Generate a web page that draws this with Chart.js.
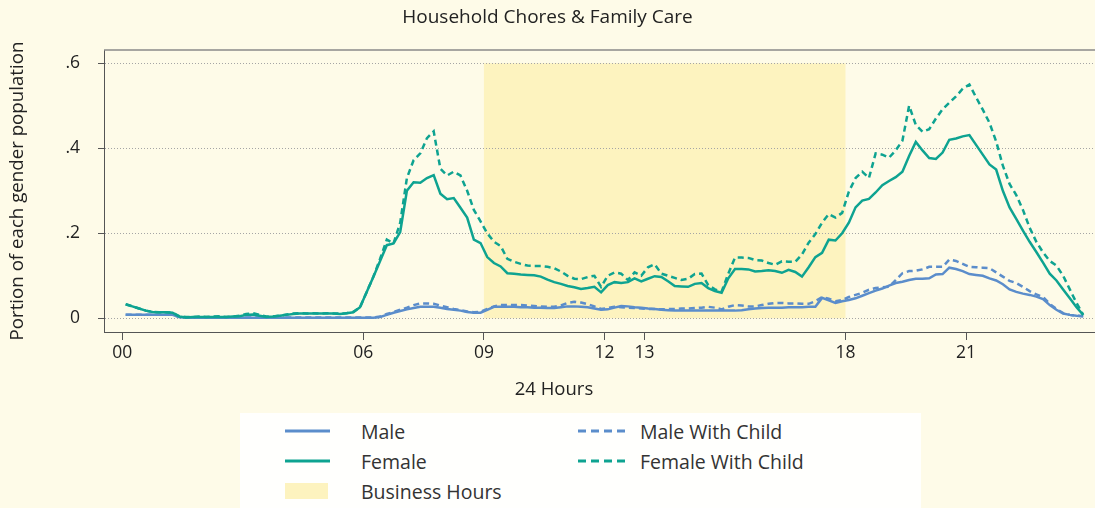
<!DOCTYPE html>
<html>
<head>
<meta charset="utf-8">
<title>Household Chores &amp; Family Care</title>
<script src="https://cdn.jsdelivr.net/npm/chart.js@4.4.1/dist/chart.umd.min.js"></script>
<style>
  html, body { margin: 0; padding: 0; background: #fefbe8; }
  #wrap { position: relative; width: 1095px; height: 508px; font-family: 'Open Sans', sans-serif; }
  #wrap canvas { position: absolute; left: 0; top: 0; }
  #xtitulo { position: absolute; left: 454px; top: 376px; width: 200px; text-align: center; font-size: 18.5px; line-height: 24px; color: #222; }
  #legend { position: absolute; left: 240px; top: 413px; width: 681px; height: 95px; background: #fffffd; }
  .item { position: absolute; height: 30px; display: flex; align-items: center; font-size: 19.5px; color: #333; }
  .item svg { margin-right: 31px; }
</style>
</head>
<body>
<div id="wrap">
  <canvas id="grafica"></canvas>
  <div id="xtitulo">24 Hours</div>
  <div id="legend">
    <div class="item" style="left:45px; top:3px;"><svg width="45" height="6"><line x1="0" y1="3" x2="45" y2="3" stroke="#5b8dcb" stroke-width="3"/></svg>Male</div>
    <div class="item" style="left:45px; top:33px;"><svg width="45" height="6"><line x1="0" y1="3" x2="45" y2="3" stroke="#0ea391" stroke-width="3"/></svg>Female</div>
    <div class="item" style="left:45px; top:63px;"><svg width="45" height="18"><rect x="0" y="1" width="43" height="16" fill="#fdf3bf"/></svg>Business Hours</div>
    <div class="item" style="left:338px; top:3px;"><svg width="47" height="6" style="margin-right:15px"><line x1="0" y1="3" x2="47" y2="3" stroke="#5b8dcb" stroke-width="3" stroke-dasharray="8,5"/></svg>Male With Child</div>
    <div class="item" style="left:338px; top:33px;"><svg width="47" height="6" style="margin-right:15px"><line x1="0" y1="3" x2="47" y2="3" stroke="#0ea391" stroke-width="3" stroke-dasharray="8,5"/></svg>Female With Child</div>
  </div>
</div>
<script>
// Datos: proporción por franja de 10 minutos (punto medio de cada franja)
const slotMinutes = Array.from({ length: 144 }, (_, i) => 5 + i * 10);

const male = [
  .008, .008, .008, .008, .008, .008, .008, .008, .003, .001,
  .001, .001, .001, .001, .001, .001, .001, .001, .001, .001,
  .001, .001, .001, .001, .001, .001, .001, .001, .001, .001,
  .001, .001, .001, .001, .001, .001, .001, .001, .003, .008,
  .013, .017, .021, .024, .027, .027, .027, .025, .022, .020,
  .018, .015, .013, .013, .020, .027, .027, .027, .027, .026,
  .026, .025, .025, .024, .024, .026, .028, .028, .027, .026,
  .023, .020, .021, .025, .029, .028, .026, .025, .023, .022,
  .020, .019, .018, .018, .018, .018, .018, .018, .018, .018,
  .018, .018, .019, .021, .023, .024, .025, .025, .025, .026,
  .026, .026, .027, .027, .048, .042, .036, .040, .043, .047,
  .053, .059, .065, .070, .077, .083, .086, .090, .093, .093,
  .094, .103, .104, .119, .116, .111, .104, .102, .100, .094,
  .089, .080, .068, .062, .058, .055, .051, .045, .031, .020,
  .011, .008, .006, .005
];

const female = [
  .033, .028, .023, .018, .015, .014, .014, .013, .004, .002,
  .003, .003, .003, .003, .003, .003, .004, .005, .008, .009,
  .006, .003, .004, .006, .008, .010, .011, .011, .011, .011,
  .011, .011, .010, .012, .014, .026, .062, .098, .135, .172,
  .176, .203, .300, .320, .319, .330, .337, .293, .280, .283,
  .260, .237, .185, .177, .144, .130, .122, .106, .105, .103,
  .102, .101, .098, .091, .085, .081, .076, .073, .069, .071,
  .074, .061, .078, .085, .083, .085, .094, .087, .093, .099,
  .097, .087, .076, .075, .074, .081, .083, .071, .064, .060,
  .094, .116, .116, .115, .110, .111, .113, .111, .107, .114,
  .109, .098, .120, .144, .154, .185, .183, .200, .225, .261,
  .277, .281, .296, .313, .323, .332, .345, .382, .415, .395,
  .377, .375, .390, .420, .423, .428, .431, .408, .385, .362,
  .350, .300, .261, .234, .206, .180, .156, .131, .105, .089,
  .068, .047, .026, .008
];

const maleChild = [
  .008, .008, .008, .008, .008, .008, .008, .008, .003, .002,
  .002, .002, .002, .002, .002, .002, .002, .002, .002, .002,
  .002, .002, .002, .002, .002, .002, .002, .002, .002, .002,
  .002, .002, .002, .002, .002, .002, .002, .002, .004, .010,
  .015, .020, .025, .031, .035, .035, .034, .030, .026, .022,
  .019, .016, .014, .015, .022, .028, .031, .031, .031, .031,
  .030, .029, .028, .027, .027, .030, .036, .039, .037, .033,
  .028, .022, .024, .027, .026, .025, .024, .023, .022, .022,
  .021, .022, .022, .023, .023, .024, .025, .027, .025, .021,
  .027, .031, .030, .028, .028, .031, .034, .036, .036, .035,
  .035, .034, .034, .040, .050, .046, .040, .043, .050, .055,
  .060, .067, .071, .073, .074, .090, .106, .111, .112, .115,
  .121, .121, .121, .138, .135, .128, .121, .120, .119, .118,
  .108, .098, .088, .083, .074, .064, .056, .050, .034, .022,
  .012, .008, .006, .005
];

const femaleChild = [
  .033, .028, .023, .018, .015, .014, .014, .013, .005, .003,
  .003, .004, .003, .004, .005, .003, .004, .006, .010, .012,
  .008, .004, .004, .006, .009, .011, .012, .011, .012, .011,
  .012, .011, .011, .012, .015, .026, .062, .098, .140, .185,
  .176, .225, .330, .372, .388, .424, .440, .352, .336, .345,
  .336, .300, .255, .228, .200, .180, .170, .140, .133, .128,
  .124, .123, .123, .121, .118, .110, .100, .093, .092, .097,
  .100, .074, .100, .108, .105, .090, .108, .100, .120, .127,
  .105, .100, .095, .090, .093, .104, .105, .078, .068, .063,
  .105, .143, .143, .142, .137, .136, .130, .126, .134, .133,
  .133, .150, .178, .198, .225, .245, .237, .248, .298, .330,
  .345, .330, .388, .385, .378, .395, .418, .500, .455, .439,
  .445, .470, .492, .507, .522, .540, .550, .520, .491, .460,
  .416, .359, .316, .290, .255, .213, .180, .155, .135, .124,
  .100, .068, .036, .008
];

const xTicks = [0, 6, 9, 12, 13, 18, 21];
const yTicks = [0, 0.2, 0.4, 0.6];
const businessHours = [9, 18];
const businessTop = 0.6;

const BLUE = '#5b8dcb';
const TEAL = '#0ea391';

function puntos(serie) {
  return serie.map((v, i) => ({ x: slotMinutes[i] / 60, y: v }));
}

// Banda amarilla de horario laboral, debajo de la rejilla
const bandaHorario = {
  id: 'bandaHorario',
  beforeDraw(chart) {
    const { ctx, scales: { x, y } } = chart;
    const x0 = x.getPixelForValue(businessHours[0]);
    const x1 = x.getPixelForValue(businessHours[1]);
    const y0 = y.getPixelForValue(0);
    const y1 = y.getPixelForValue(businessTop);
    ctx.save();
    ctx.fillStyle = '#fdf3bf';
    ctx.fillRect(x0, y1, x1 - x0, y0 - y1);
    ctx.restore();
  }
};

// Línea superior del marco
const marcoSuperior = {
  id: 'marcoSuperior',
  afterDraw(chart) {
    const { ctx, chartArea } = chart;
    ctx.save();
    ctx.strokeStyle = '#8a8a8a';
    ctx.lineWidth = 1.5;
    ctx.beginPath();
    ctx.moveTo(chartArea.left, chartArea.top);
    ctx.lineTo(chartArea.right, chartArea.top);
    ctx.stroke();
    ctx.restore();
  }
};

Chart.defaults.font.family = "'Open Sans', sans-serif";
Chart.defaults.color = '#222';

const linea = (label, data, color, dash) => ({
  label: label,
  data: puntos(data),
  borderColor: color,
  backgroundColor: color,
  borderWidth: 2.5,
  borderDash: dash,
  pointRadius: 0,
  tension: 0,
  fill: false
});

new Chart(document.getElementById('grafica'), {
  type: 'line',
  data: {
    datasets: [
      linea('Female With Child', femaleChild, TEAL, [6, 4]),
      linea('Female', female, TEAL, []),
      linea('Male With Child', maleChild, BLUE, [6, 4]),
      linea('Male', male, BLUE, [])
    ]
  },
  options: {
    responsive: true,
    maintainAspectRatio: false,
    animation: false,
    layout: { padding: { left: 0, right: 0, top: 0, bottom: 106 } },
    plugins: {
      legend: { display: false },
      tooltip: { enabled: false },
      title: {
        display: true,
        text: 'Household Chores & Family Care',
        font: { size: 19, weight: 'normal' },
        color: '#222',
        padding: { top: 6, bottom: 21.2 }
      }
    },
    scales: {
      x: {
        type: 'linear',
        min: -0.4556,
        max: 24.21,
        afterFit: s => { s.height = 70; },
        afterBuildTicks: s => { s.ticks = xTicks.map(v => ({ value: v })); },
        ticks: {
          font: { size: 17.5 },
          color: '#222',
          padding: 3,
          maxRotation: 0,
          autoSkip: false,
          callback: v => String(v).padStart(2, '0')
        },
        grid: { display: true, drawOnChartArea: false, drawTicks: true, tickLength: 8, tickColor: '#555', color: '#555' },
        border: { display: true, color: '#555', width: 1 }
      },
      y: {
        min: -0.0323,
        max: 0.6313,
        afterFit: s => { s.width = 104; },
        afterBuildTicks: s => { s.ticks = yTicks.map(v => ({ value: v })); },
        ticks: {
          font: { size: 17.5 },
          color: '#222',
          padding: 18,
          callback: v => v === 0 ? '0' : String(v).replace(/^0/, '')
        },
        grid: { display: true, drawOnChartArea: true, drawTicks: true, tickLength: 6, color: '#a5a5a5', tickColor: '#555', tickBorderDash: [] },
        border: { display: true, color: '#555', width: 1, dash: [1, 2] },
        title: { display: true, text: 'Portion of each gender population', font: { size: 18.7 }, color: '#222', padding: { top: 6, bottom: 0 } }
      }
    }
  },
  plugins: [bandaHorario, marcoSuperior]
});
</script>
</body>
</html>
